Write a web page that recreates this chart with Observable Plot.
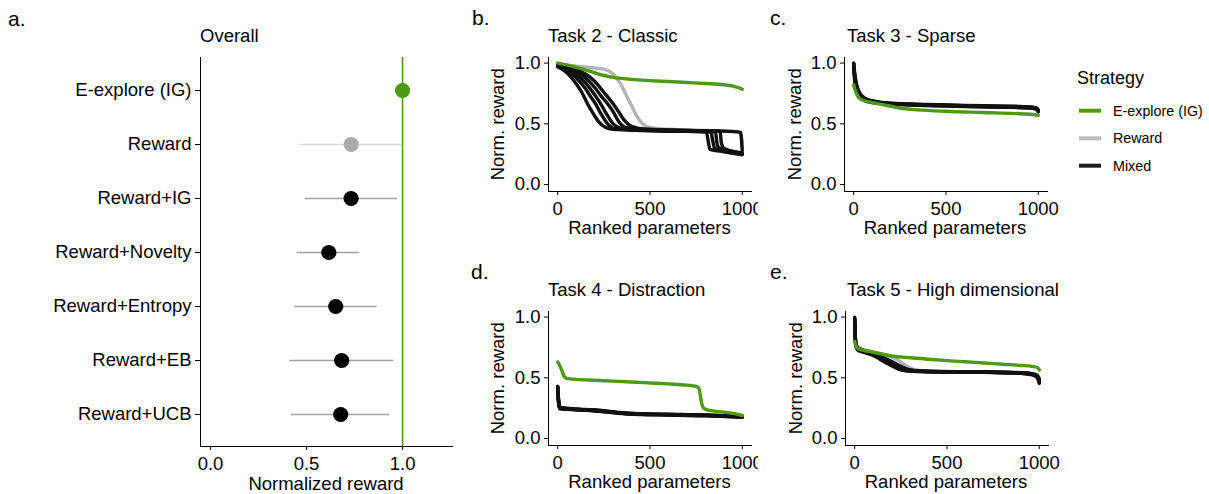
<!DOCTYPE html>
<html>
<head>
<meta charset="utf-8">
<script src="https://cdn.jsdelivr.net/npm/d3@7"></script>
<script src="https://cdn.jsdelivr.net/npm/@observablehq/plot@0.6"></script>
<style>
  body { margin: 0; background: #fff; }
  #root { position: relative; width: 1209px; height: 494px; overflow: hidden; background: #fff;
          font-family: "Liberation Sans", Arial, Helvetica, sans-serif; color: #000; }
  .t { position: absolute; white-space: nowrap; }
</style>
</head>
<body>
<div id="root"></div>
<script>
// ---------------- DATA ----------------
// Panel a: overall normalized reward per strategy
const strategies = ["E-explore (IG)", "Reward", "Reward+IG", "Reward+Novelty", "Reward+Entropy", "Reward+EB", "Reward+UCB"];
const strategyGroup = ["E-explore (IG)", "Reward", "Mixed", "Mixed", "Mixed", "Mixed", "Mixed"];
const overallMean = [1.0, 0.733, 0.732, 0.616, 0.652, 0.683, 0.678];
const overallLow  = [1.0, 0.465, 0.492, 0.452, 0.439, 0.413, 0.420];
const overallHigh = [1.0, 1.000, 0.974, 0.778, 0.867, 0.954, 0.934];

const overallTicks = [0, 0.5, 1.0];
const rankTicks = [0, 500, 1000];
const rewardTicks = [0, 0.5, 1.0];
const legendLabels = ["E-explore (IG)", "Reward", "Mixed"];

// Task 2 - Classic: [rank, normalized reward]
const task2Explore = [[0,1.0],[50,0.985],[100,0.965],[150,0.945],[200,0.92],[250,0.898],[300,0.882],[400,0.866],[500,0.856],[600,0.848],[700,0.84],[800,0.832],[900,0.822],[950,0.81],[980,0.798],[1000,0.785]];
const task2Reward = [[0,0.99],[100,0.975],[200,0.96],[250,0.95],[300,0.91],[340,0.83],[370,0.74],[400,0.65],[430,0.56],[460,0.5],[500,0.47],[600,0.455],[800,0.445],[950,0.44],[995,0.43],[1000,0.3]];
const task2Mixed = [
  [[0,0.97],[50,0.92],[100,0.83],[130,0.76],[160,0.67],[190,0.59],[220,0.52],[260,0.47],[300,0.455],[450,0.445],[650,0.44],[805,0.435],[815,0.36],[825,0.29],[900,0.27],[1000,0.245]],
  [[0,0.97],[50,0.94],[100,0.88],[150,0.79],[180,0.72],[205,0.665],[235,0.58],[270,0.5],[310,0.46],[400,0.45],[600,0.44],[830,0.435],[840,0.36],[850,0.3],[920,0.27],[1000,0.25]],
  [[0,0.98],[50,0.95],[100,0.91],[150,0.84],[200,0.74],[233,0.665],[265,0.58],[300,0.5],[340,0.465],[450,0.45],[650,0.44],[855,0.435],[862,0.35],[875,0.3],[940,0.275],[1000,0.26]],
  [[0,0.98],[50,0.96],[100,0.93],[150,0.88],[200,0.8],[240,0.72],[270,0.665],[300,0.6],[330,0.52],[370,0.47],[450,0.455],[700,0.445],[880,0.44],[886,0.35],[900,0.3],[960,0.27],[1000,0.255]],
  [[0,0.98],[50,0.965],[100,0.945],[150,0.91],[200,0.85],[250,0.76],[300,0.665],[330,0.6],[360,0.53],[400,0.48],[480,0.455],[700,0.445],[900,0.44],[990,0.43],[1000,0.28]]
];

// Task 3 - Sparse
const task3Explore = [[0,0.82],[5,0.79],[15,0.75],[30,0.71],[60,0.69],[100,0.675],[150,0.66],[200,0.645],[250,0.63],[350,0.615],[500,0.603],[700,0.593],[900,0.583],[980,0.575],[1000,0.57]];
const task3Reward = [[0,0.97],[5,0.9],[15,0.82],[30,0.76],[60,0.715],[100,0.69],[200,0.668],[400,0.655],[600,0.648],[800,0.64],[950,0.632],[990,0.625],[1000,0.61]];
const task3Mixed = [
  [[0,1.0],[5,0.9],[15,0.8],[30,0.73],[60,0.69],[100,0.675],[200,0.662],[400,0.652],[600,0.645],[800,0.638],[950,0.632],[990,0.62],[1000,0.6]],
  [[0,0.98],[5,0.88],[15,0.79],[30,0.74],[60,0.7],[100,0.68],[200,0.665],[400,0.655],[600,0.648],[800,0.642],[950,0.637],[990,0.628],[1000,0.61]],
  [[0,0.96],[5,0.86],[15,0.77],[30,0.72],[60,0.695],[100,0.68],[200,0.668],[400,0.658],[600,0.65],[800,0.645],[950,0.64],[990,0.632],[1000,0.615]],
  [[0,1.0],[5,0.92],[15,0.83],[30,0.76],[60,0.71],[100,0.69],[200,0.67],[400,0.66],[600,0.652],[800,0.646],[950,0.64],[990,0.63],[1000,0.605]],
  [[0,0.99],[5,0.89],[15,0.81],[30,0.745],[60,0.705],[100,0.685],[200,0.664],[400,0.65],[600,0.643],[800,0.637],[950,0.63],[990,0.622],[1000,0.598]]
];

// Task 4 - Distraction
const task4Explore = [[0,0.63],[8,0.61],[20,0.57],[35,0.51],[50,0.495],[100,0.487],[200,0.48],[300,0.473],[400,0.466],[500,0.458],[600,0.45],[700,0.44],[750,0.43],[765,0.415],[772,0.36],[780,0.29],[795,0.245],[830,0.23],[900,0.218],[960,0.205],[1000,0.19]];
const task4Reward = [[0,0.40],[5,0.3],[10,0.25],[100,0.24],[200,0.23],[300,0.215],[400,0.203],[600,0.197],[800,0.192],[1000,0.183]];
const task4Mixed = [
  [[0,0.43],[4,0.33],[10,0.255],[50,0.247],[150,0.238],[250,0.228],[350,0.21],[450,0.203],[600,0.198],[800,0.193],[1000,0.18]],
  [[0,0.41],[4,0.31],[10,0.25],[50,0.243],[150,0.235],[250,0.222],[350,0.207],[450,0.2],[600,0.196],[800,0.19],[1000,0.178]],
  [[0,0.42],[4,0.32],[10,0.258],[50,0.25],[150,0.24],[250,0.23],[350,0.213],[450,0.205],[600,0.2],[800,0.194],[1000,0.182]],
  [[0,0.40],[4,0.3],[10,0.245],[50,0.24],[150,0.232],[250,0.22],[350,0.205],[450,0.198],[600,0.194],[800,0.188],[1000,0.176]],
  [[0,0.43],[4,0.32],[10,0.252],[50,0.245],[150,0.236],[250,0.226],[350,0.209],[450,0.201],[600,0.197],[800,0.191],[1000,0.179]]
];

// Task 5 - High dimensional
const task5Explore = [[0,0.8],[5,0.77],[15,0.745],[40,0.73],[100,0.71],[150,0.695],[200,0.68],[300,0.665],[400,0.653],[500,0.642],[600,0.632],[700,0.622],[800,0.612],[900,0.602],[960,0.594],[990,0.585],[1000,0.565]];
const task5Reward = [[0,0.93],[5,0.8],[15,0.75],[50,0.73],[100,0.715],[150,0.695],[200,0.67],[250,0.63],[300,0.58],[350,0.56],[450,0.553],[700,0.548],[900,0.543],[970,0.535],[1000,0.5]];
const task5Mixed = [
  [[0,1.0],[5,0.8],[15,0.75],[50,0.725],[100,0.7],[150,0.665],[200,0.62],[250,0.58],[300,0.56],[400,0.553],[700,0.548],[900,0.54],[960,0.53],[990,0.51],[1000,0.46]],
  [[0,0.98],[5,0.78],[15,0.74],[50,0.72],[100,0.69],[150,0.64],[200,0.6],[250,0.565],[300,0.555],[400,0.55],[700,0.546],[900,0.538],[960,0.525],[990,0.5],[1000,0.47]],
  [[0,0.96],[5,0.79],[15,0.745],[50,0.72],[100,0.695],[150,0.66],[200,0.63],[250,0.59],[300,0.562],[400,0.552],[700,0.547],[900,0.54],[960,0.532],[990,0.515],[1000,0.48]],
  [[0,0.99],[5,0.77],[15,0.73],[50,0.71],[100,0.685],[150,0.65],[200,0.61],[250,0.57],[300,0.555],[400,0.55],[700,0.545],[900,0.537],[960,0.528],[990,0.505],[1000,0.455]],
  [[0,0.97],[5,0.79],[15,0.75],[50,0.725],[100,0.705],[150,0.67],[200,0.635],[250,0.595],[300,0.565],[400,0.555],[700,0.549],[900,0.542],[960,0.535],[990,0.52],[1000,0.49]]
];

// ---------------- STYLE ----------------
const GREEN = "#4E9A18";
const GREY_LINE = "#B4B4B4";
const BLACK_LINE = "#111111";
const FONT = '"Liberation Sans", Arial, Helvetica, sans-serif';
const FS = 18.5;
const root = document.getElementById("root");

function place(node, left, top, width) {
  const d = document.createElement("div");
  d.style.cssText = `position:absolute;left:${left}px;top:${top}px;width:${width}px;overflow:hidden;`;
  d.appendChild(node);
  root.appendChild(d);
}
// text with given baseline
function label(str, x, baseline, fs, anchor = "start") {
  const d = document.createElement("div");
  d.className = "t";
  d.textContent = str;
  d.style.fontSize = fs + "px";
  d.style.lineHeight = fs + "px";
  d.style.top = (baseline - 0.8465 * fs) + "px";
  d.style.left = x + "px";
  if (anchor === "middle") d.style.transform = "translateX(-50%)";
  root.appendChild(d);
}
// vertical text (reads bottom to top), centered at cy, baseline at x
function vlabel(str, baselineX, cy, fs) {
  const d = document.createElement("div");
  d.className = "t";
  d.textContent = str;
  const w = 200;
  d.style.cssText += `width:${w}px;text-align:center;font-size:${fs}px;line-height:${fs}px;`;
  const cx = baselineX - 0.3465 * fs;
  d.style.left = (cx - w / 2) + "px";
  d.style.top = (cy - fs / 2) + "px";
  d.style.transform = "rotate(-90deg)";
  root.appendChild(d);
}

const plotStyle = { fontFamily: FONT, fontSize: FS + "px", color: "#000", background: "transparent" };

// ---------------- PANEL a ----------------
const overallRows = strategies.map((s, i) => ({
  strategy: s, group: strategyGroup[i], mean: overallMean[i], low: overallLow[i], high: overallHigh[i]
}));
const pointColor = { "E-explore (IG)": GREEN, "Reward": "#ABABAB", "Mixed": "#000000" };
const barColor = { "E-explore (IG)": GREEN, "Reward": "#DADADA", "Mixed": "#A2A2A2" };

const panelA = Plot.plot({
  width: 460, height: 430,
  marginLeft: 200, marginRight: 8, marginTop: 12, marginBottom: 29,
  style: plotStyle,
  x: { domain: [-0.052, 1.26], ticks: overallTicks, tickFormat: d3.format(".1f"), tickSize: 4, tickPadding: 6, line: true, label: null },
  y: { type: "point", domain: strategies, padding: 0.6, tickSize: 5, tickPadding: 4, line: true, label: null },
  color: { type: "identity" },
  marks: [
    Plot.ruleX([1.0], { stroke: GREEN, strokeWidth: 1.6 }),
    Plot.ruleY(overallRows.filter(d => d.low !== d.high), { y: "strategy", x1: "low", x2: "high", stroke: d => barColor[d.group], strokeWidth: 1.7 }),
    Plot.dot(overallRows, { x: "mean", y: "strategy", r: 7.6, fill: d => pointColor[d.group], stroke: null })
  ]
});
place(panelA, 0, 45, 460);

// ---------------- LINE PANELS ----------------
function toRows(points, run) { return points.map(([rank, value]) => ({ rank, value, run })); }

function linePanel(left, top, width, marginLeft, marginRight, explore, reward, mixed) {
  const rewardRows = toRows(reward, "Reward");
  const mixedRows = mixed.flatMap((pts, k) => toRows(pts, "Mixed " + (k + 1)));
  const exploreRows = toRows(explore, "E-explore (IG)");
  const chart = Plot.plot({
    width, height: 200,
    marginLeft, marginRight, marginTop: 12, marginBottom: 54,
    style: plotStyle,
    x: { domain: [-50, 1050], ticks: rankTicks, tickFormat: d3.format("d"), tickSize: 4, tickPadding: 6, line: true, label: null },
    y: { domain: [-0.057, 1.046], ticks: rewardTicks, tickFormat: d3.format(".1f"), tickSize: 4, tickPadding: 4, line: true, label: null },
    marks: [
      Plot.line(rewardRows, { x: "rank", y: "value", stroke: GREY_LINE, strokeWidth: 3.4, curve: "monotone-x" }),
      Plot.line(mixedRows, { x: "rank", y: "value", z: "run", stroke: BLACK_LINE, strokeWidth: 3.4, curve: "monotone-x" }),
      Plot.line(exploreRows, { x: "rank", y: "value", stroke: GREEN, strokeWidth: 3.4, curve: "monotone-x" })
    ]
  });
  place(chart, left, top, width);
}

linePanel(480, 45, 278, 68, 7, task2Explore, task2Reward, task2Mixed);
linePanel(770, 45, 290, 74, 13, task3Explore, task3Reward, task3Mixed);
linePanel(480, 299, 278, 68, 7, task4Explore, task4Reward, task4Mixed);
linePanel(770, 299, 290, 75, 12, task5Explore, task5Reward, task5Mixed);

// ---------------- TEXT ----------------
label("a.", 8, 26, 21);
label("b.", 472, 25, 21);
label("c.", 770, 25, 21);
label("d.", 471, 279, 21);
label("e.", 770, 279, 21);

label("Overall", 200, 43, FS);
label("Task 2 - Classic", 548, 43, FS);
label("Task 3 - Sparse", 847, 43, FS);
label("Task 4 - Distraction", 548, 297, FS);
label("Task 5 - High dimensional", 847, 297, FS);

label("Normalized reward", 326, 491, FS, "middle");
label("Ranked parameters", 649.5, 235, FS, "middle");
label("Ranked parameters", 945, 235, FS, "middle");
label("Ranked parameters", 649.5, 489, FS, "middle");
label("Ranked parameters", 946, 489, FS, "middle");

vlabel("Norm. reward", 504, 124.5, FS);
vlabel("Norm. reward", 801, 124.5, FS);
vlabel("Norm. reward", 504, 378.5, FS);
vlabel("Norm. reward", 802, 378.5, FS);

// ---------------- LEGEND ----------------
label("Strategy", 1077, 84, 18);
const legendColors = [GREEN, "#BDBDBD", "#1A1A1A"];
const legendY = [110.7, 138.3, 165.7];
const ns = "http://www.w3.org/2000/svg";
const lsvg = document.createElementNS(ns, "svg");
lsvg.setAttribute("width", 40); lsvg.setAttribute("height", 80);
lsvg.style.cssText = "position:absolute;left:1070px;top:90px;";
legendLabels.forEach((name, i) => {
  const ln = document.createElementNS(ns, "line");
  ln.setAttribute("x1", 9); ln.setAttribute("x2", 31);
  ln.setAttribute("y1", legendY[i] - 90); ln.setAttribute("y2", legendY[i] - 90);
  ln.setAttribute("stroke", legendColors[i]); ln.setAttribute("stroke-width", 4);
  lsvg.appendChild(ln);
  label(name, 1113, legendY[i] + 5, 14.3);
});
root.appendChild(lsvg);
</script>
</body>
</html>
